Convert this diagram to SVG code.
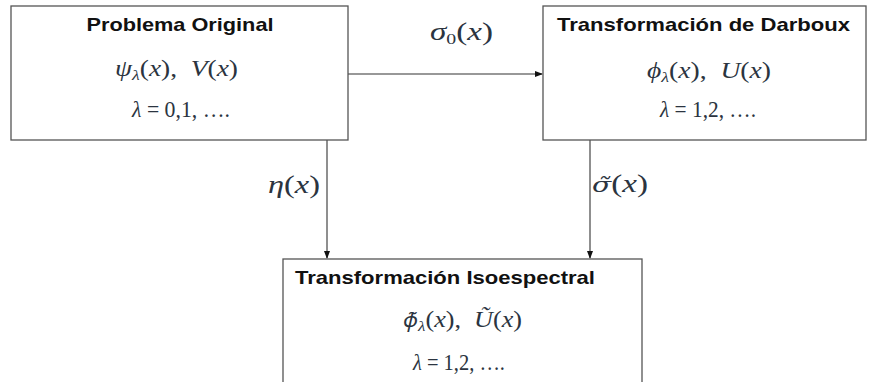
<svg xmlns="http://www.w3.org/2000/svg" width="875" height="382" viewBox="0 0 875 382">
<style>
.box{fill:#fff;stroke:#555;stroke-width:1.3}
.title{font-family:"Liberation Sans",Arial,sans-serif;font-weight:bold;font-size:18.5px;fill:#111}
.m{font-family:"Liberation Serif","Times New Roman",serif;font-style:italic;font-size:23px;fill:#2b3440}
.e{font-size:25px}
.n{font-style:normal}
.sub{font-size:15px}
.dj{font-family:"DejaVu Serif",serif;font-size:0.85em}
.ns{font-family:"Noto Sans",serif;font-size:0.85em}
.edge{stroke:#333;stroke-width:1.1;fill:none}
</style>
<defs>
<marker id="ah" markerWidth="8" markerHeight="8" refX="7" refY="4" orient="auto" markerUnits="userSpaceOnUse">
<path d="M0,1 L8,4 L0,7 Z" fill="#111"/>
</marker>
</defs>
<g id="connectors">
<line class="edge" x1="348" y1="74" x2="542" y2="74" marker-end="url(#ah)"/>
<line class="edge" x1="327" y1="140" x2="327" y2="258" marker-end="url(#ah)"/>
<line class="edge" x1="590" y1="140" x2="590" y2="258" marker-end="url(#ah)"/>
<text class="m e" x="430" y="40" textLength="63" lengthAdjust="spacingAndGlyphs">σ<tspan class="sub n" dy="4">0</tspan><tspan class="n" dy="-4">(</tspan>x<tspan class="n">)</tspan></text>
<text class="m e" x="268" y="193" textLength="52" lengthAdjust="spacingAndGlyphs">η<tspan class="n">(</tspan>x<tspan class="n">)</tspan></text>
<text class="m e" x="592" y="192" textLength="56" lengthAdjust="spacingAndGlyphs"><tspan class="dj">σ̃</tspan><tspan class="n">(</tspan>x<tspan class="n">)</tspan></text>
</g>
<g id="node-original">
<rect class="box" x="11" y="6" width="337" height="134"/>
<text class="title" x="180" y="31" text-anchor="middle" textLength="187" lengthAdjust="spacingAndGlyphs">Problema Original</text>
<text class="m" x="115" y="76" textLength="123" lengthAdjust="spacingAndGlyphs">ψ<tspan class="sub" dy="4">λ</tspan><tspan class="n" dy="-4">(</tspan>x<tspan class="n">),&#160;&#160;</tspan>V<tspan class="n">(</tspan>x<tspan class="n">)</tspan></text>
<text class="m" x="132" y="117" textLength="98" lengthAdjust="spacingAndGlyphs">λ<tspan class="n">&#160;=&#160;0,1,&#160;….</tspan></text>
</g>
<g id="node-darboux">
<rect class="box" x="543" y="6" width="323" height="134"/>
<text class="title" x="557" y="31" textLength="293" lengthAdjust="spacingAndGlyphs">Transformación de Darboux</text>
<text class="m" x="647" y="78" textLength="124" lengthAdjust="spacingAndGlyphs">ϕ<tspan class="sub" dy="4">λ</tspan><tspan class="n" dy="-4">(</tspan>x<tspan class="n">),&#160;&#160;</tspan>U<tspan class="n">(</tspan>x<tspan class="n">)</tspan></text>
<text class="m" x="660" y="117" textLength="96" lengthAdjust="spacingAndGlyphs">λ<tspan class="n">&#160;=&#160;1,2,&#160;….</tspan></text>
</g>
<g id="node-isoespectral">
<rect class="box" x="283" y="259" width="359" height="130"/>
<text class="title" x="295" y="284" textLength="300" lengthAdjust="spacingAndGlyphs">Transformación Isoespectral</text>
<text class="m" x="403" y="327" textLength="119" lengthAdjust="spacingAndGlyphs"><tspan class="ns">ϕ̃</tspan><tspan class="sub" dy="4">λ</tspan><tspan class="n" dy="-4">(</tspan>x<tspan class="n">),&#160;&#160;</tspan>Ũ<tspan class="n">(</tspan>x<tspan class="n">)</tspan></text>
<text class="m" x="413" y="370" textLength="92" lengthAdjust="spacingAndGlyphs">λ<tspan class="n">&#160;=&#160;1,2,&#160;….</tspan></text>
</g>
</svg>
